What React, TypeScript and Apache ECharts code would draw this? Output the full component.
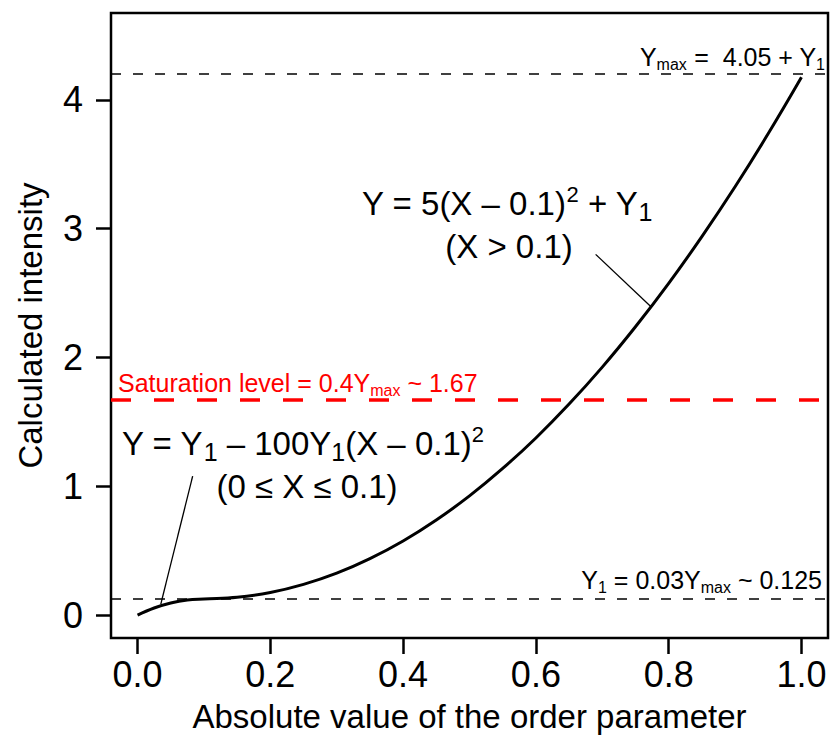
import React, { useEffect, useRef } from "react";
import * as echarts from "echarts";

// Curve values
const curveX = [0, 0.025, 0.05, 0.075, 0.1, 0.15, 0.2, 0.25, 0.3, 0.35, 0.4, 0.45, 0.5, 0.55, 0.6, 0.65, 0.7, 0.75, 0.8, 0.85, 0.9, 0.95, 1.0];
const curveY = [0, 0.055, 0.094, 0.117, 0.125, 0.138, 0.175, 0.238, 0.325, 0.438, 0.575, 0.738, 0.925, 1.138, 1.375, 1.638, 1.925, 2.238, 2.575, 2.938, 3.325, 3.738, 4.175];

// Leader lines for the annotations
const leaderUpperX = [0.69, 0.773];
const leaderUpperY = [2.8, 2.395];
const leaderLowerX = [0.083, 0.035];
const leaderLowerY = [1.078, 0.085];

// Reference levels
const yMaxLevel = 4.2;
const saturationLevel = 1.67;
const y1Level = 0.125;

// Ticks
const xTicks = [0, 0.2, 0.4, 0.6, 0.8, 1.0];
const yTicks = [0, 1, 2, 3, 4];

const FONT = "'Liberation Sans', Arial, Helvetica, sans-serif";

export default function App() {
  const ref = useRef<HTMLDivElement>(null);

  useEffect(() => {
    if (!ref.current) return;
    const chart = echarts.init(ref.current, null, { renderer: "svg" });

    const big = 33;
    const bigSup = 22;
    const bigSub = 25;
    const small = 25;
    const smallSub = 16;

    const bigRich = {
      n: { fontSize: big, fontFamily: FONT, fill: "#000" },
      sup: { fontSize: bigSup, fontFamily: FONT, fill: "#000", padding: [0, 0, 17, 0] },
      sub: { fontSize: bigSub, fontFamily: FONT, fill: "#000", padding: [18, 0, 0, 0] },
    };
    const smallRich = (color: string) => ({
      n: { fontSize: small, fontFamily: FONT, fill: color },
      sub: { fontSize: smallSub, fontFamily: FONT, fill: color, padding: [14, 0, 0, 0] },
    });

    const option: any = {
      animation: false,
      backgroundColor: "#fff",
      grid: {
        left: 111,
        top: 13,
        right: 2,
        bottom: 99,
        show: true,
        borderColor: "#000",
        borderWidth: 2.5,
        backgroundColor: "transparent",
      },
      xAxis: {
        type: "value",
        min: -0.04,
        max: 1.04,
        name: "Absolute value of the order parameter",
        nameLocation: "middle",
        nameGap: 62,
        nameTextStyle: { fontSize: 33, fontFamily: FONT, color: "#000" },
        axisLine: { show: false, onZero: false },
        splitLine: { show: false },
        axisTick: {
          show: true,
          inside: false,
          length: 16,
          lineStyle: { color: "#000", width: 2.5 },
          customValues: xTicks,
        },
        axisLabel: {
          show: true,
          margin: 18,
          fontSize: 36,
          fontFamily: FONT,
          color: "#000",
          customValues: xTicks,
          formatter: (v: number) => v.toFixed(1),
        },
      },
      yAxis: {
        type: "value",
        min: -0.178,
        max: 4.674,
        name: "Calculated intensity",
        nameLocation: "middle",
        nameGap: 64,
        nameTextStyle: { fontSize: 33, fontFamily: FONT, color: "#000" },
        axisLine: { show: false, onZero: false },
        splitLine: { show: false },
        axisTick: {
          show: true,
          inside: false,
          length: 15,
          lineStyle: { color: "#000", width: 2.5 },
          customValues: yTicks,
        },
        axisLabel: {
          show: true,
          margin: 28,
          fontSize: 36,
          fontFamily: FONT,
          color: "#000",
          customValues: yTicks,
          formatter: (v: number) => String(v),
        },
      },
      series: [
        {
          type: "line",
          data: curveX.map((x, i) => [x, curveY[i]]),
          smooth: 0.4,
          showSymbol: false,
          symbol: "none",
          lineStyle: { color: "#000", width: 3 },
          silent: true,
          z: 5,
          markLine: {
            silent: true,
            symbol: "none",
            label: { show: false },
            data: [
              { yAxis: yMaxLevel, lineStyle: { color: "#000", width: 1.5, type: [10, 12] } },
              { yAxis: y1Level, lineStyle: { color: "#000", width: 1.5, type: [10, 12] } },
              { yAxis: saturationLevel, lineStyle: { color: "#ff0000", width: 3.5, type: [20, 23] } },
            ],
          },
        },
        {
          type: "line",
          data: leaderUpperX.map((x, i) => [x, leaderUpperY[i]]),
          showSymbol: false,
          symbol: "none",
          lineStyle: { color: "#000", width: 1.3 },
          silent: true,
        },
        {
          type: "line",
          data: leaderLowerX.map((x, i) => [x, leaderLowerY[i]]),
          showSymbol: false,
          symbol: "none",
          lineStyle: { color: "#000", width: 1.3 },
          silent: true,
        },
      ],
      graphic: [
        {
          type: "text",
          x: 362,
          y: 203,
          style: {
            text: "{n|Y = 5(X – 0.1)}{sup|2}{n| + Y}{sub|1}",
            rich: bigRich,
            align: "left",
            verticalAlign: "middle",
          },
        },
        {
          type: "text",
          x: 509,
          y: 246,
          style: {
            text: "(X > 0.1)",
            fontSize: big,
            fontFamily: FONT,
            fill: "#000",
            align: "center",
            verticalAlign: "middle",
          },
        },
        {
          type: "text",
          x: 122,
          y: 443,
          style: {
            text: "{n|Y = Y}{sub|1}{n| – 100Y}{sub|1}{n|(X – 0.1)}{sup|2}",
            rich: bigRich,
            align: "left",
            verticalAlign: "middle",
          },
        },
        {
          type: "text",
          x: 307,
          y: 486,
          style: {
            text: "(0 ≤ X ≤ 0.1)",
            fontSize: big,
            fontFamily: FONT,
            fill: "#000",
            align: "center",
            verticalAlign: "middle",
          },
        },
        {
          type: "text",
          x: 118,
          y: 383,
          style: {
            text: "{n|Saturation level = 0.4Y}{sub|max}{n| ~ 1.67}",
            rich: smallRich("#ff0000"),
            align: "left",
            verticalAlign: "middle",
          },
        },
        {
          type: "text",
          x: 825,
          y: 57,
          style: {
            text: "{n|Y}{sub|max}{n| =  4.05 + Y}{sub|1}",
            rich: smallRich("#000"),
            align: "right",
            verticalAlign: "middle",
          },
        },
        {
          type: "text",
          x: 822,
          y: 580,
          style: {
            text: "{n|Y}{sub|1}{n| = 0.03Y}{sub|max}{n| ~ 0.125}",
            rich: smallRich("#000"),
            align: "right",
            verticalAlign: "middle",
          },
        },
      ],
    };

    chart.setOption(option);
    return () => chart.dispose();
  }, []);

  return <div ref={ref} style={{ width: 830, height: 738, position: "absolute", left: 0, top: 0, background: "#fff" }} />;
}
